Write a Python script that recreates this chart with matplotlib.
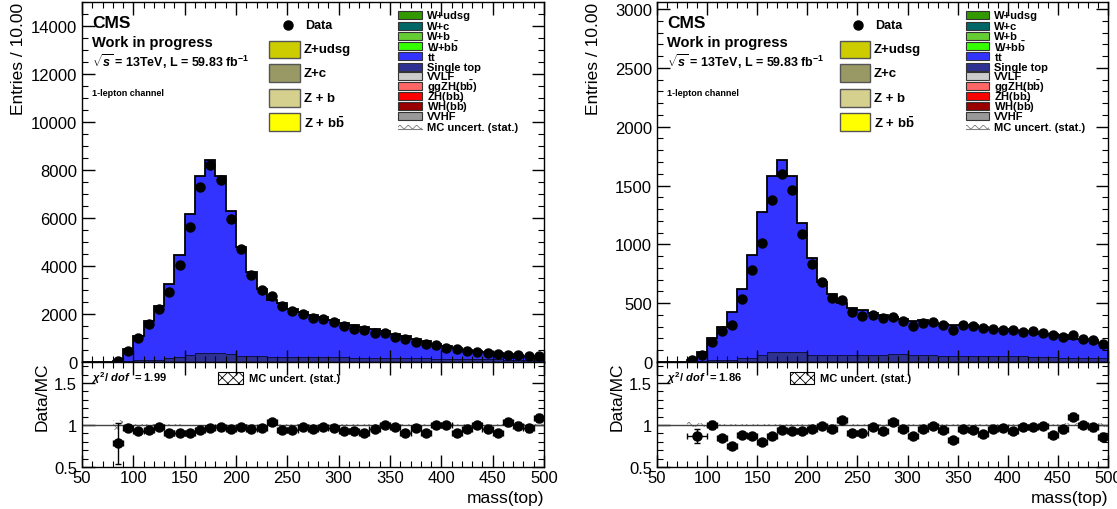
import matplotlib
matplotlib.use('Agg')
import matplotlib.pyplot as plt
import numpy as np
from matplotlib.patches import Rectangle
from matplotlib.ticker import MultipleLocator, FixedLocator, FuncFormatter

plt.rcParams['font.family'] = ['Liberation Sans', 'DejaVu Sans']
plt.rcParams['mathtext.fontset'] = 'custom'
plt.rcParams['mathtext.rm'] = 'Liberation Sans:bold'
plt.rcParams['mathtext.it'] = 'Liberation Sans:italic:bold'
plt.rcParams['mathtext.bf'] = 'Liberation Sans:bold'
plt.rcParams['hatch.linewidth'] = 0.6

# bins of 10 GeV from 50 to 500
edges = np.arange(50, 501, 10)

# ---- left panel ----
left_mc_total = [0, 0, 0, 40, 530, 1070, 1690, 2350, 3240, 4470, 6180, 7740, 8430, 7740,
                 6280, 4790, 3750, 3060, 2570, 2460, 2220, 2080, 1940, 1875, 1760, 1640,
                 1530, 1460, 1360, 1280, 1180, 1080, 970, 860, 760, 670, 580, 510, 440,
                 400, 360, 320, 290, 260, 220]
left_single_top = [0, 0, 0, 5, 60, 80, 80, 80, 170, 220, 290, 375, 375, 375, 330, 260,
                   250, 250, 210, 210, 210, 205, 200, 200, 195, 190, 185, 180, 175, 170,
                   165, 160, 155, 150, 145, 130, 125, 120, 115, 110, 105, 100, 95, 90, 85]
left_data = [0, 0, 0, 50, 460, 1000, 1600, 2220, 2920, 4030, 5625, 7280, 8220, 7600,
             5970, 4720, 3610, 2990, 2740, 2330, 2110, 2010, 1850, 1800, 1670, 1490,
             1390, 1320, 1210, 1210, 1040, 940, 830, 760, 690, 600, 530, 470, 420, 375,
             330, 305, 280, 260, 235]
left_mc_unc = [0, 0, 0, 0.06, 0.012, 0.008, 0.008, 0.008, 0.006, 0.006, 0.005, 0.005,
               0.005, 0.005, 0.005, 0.006, 0.006, 0.006, 0.006, 0.007, 0.007, 0.007,
               0.007, 0.008, 0.008, 0.008, 0.008, 0.008, 0.009, 0.009, 0.009, 0.01, 0.01,
               0.01, 0.01, 0.012, 0.012, 0.012, 0.013, 0.013, 0.014, 0.015, 0.015,
               0.016, 0.017]
left_ratio_x = [85, 95, 105, 115, 125, 135, 145, 155, 165, 175, 185, 195, 205, 215, 225,
                235, 245, 255, 265, 275, 285, 295, 305, 315, 325, 335, 345, 355, 365,
                375, 385, 395, 405, 415, 425, 435, 445, 455, 465, 475, 485, 495]
left_ratio_xerr = [5] * 42
left_ratio = [0.78, 0.96, 0.93, 0.94, 0.97, 0.91, 0.90, 0.91, 0.94, 0.96, 0.97, 0.95,
              0.98, 0.95, 0.96, 1.03, 0.94, 0.94, 0.98, 0.95, 0.97, 0.96, 0.93, 0.93,
              0.91, 0.95, 1.00, 0.98, 0.91, 0.96, 0.90, 1.00, 1.00, 0.90, 0.95, 1.00,
              0.95, 0.90, 1.03, 0.99, 0.96, 1.08]
left_ratio_err = [0.24, 0.03, 0.02, 0.02, 0.02, 0.015, 0.015, 0.015, 0.015, 0.015,
                  0.015, 0.015, 0.015, 0.02, 0.02, 0.02, 0.02, 0.02, 0.02, 0.02, 0.02,
                  0.02, 0.02, 0.02, 0.02, 0.02, 0.02, 0.025, 0.025, 0.025, 0.025, 0.025,
                  0.03, 0.03, 0.03, 0.03, 0.03, 0.03, 0.04, 0.04, 0.04, 0.05]

# ---- right panel ----
right_mc_total = [0, 0, 0, 15, 85, 204, 297, 425, 623, 911, 1274, 1579, 1715, 1579, 1183,
                  883, 679, 580, 504, 458, 439, 419, 396, 382, 368, 351, 354, 334, 325,
                  317, 317, 311, 297, 283, 277, 269, 260, 255, 241, 241, 226, 198, 198,
                  184, 164]
right_single_top = [0, 0, 0, 2, 10, 14, 14, 14, 34, 34, 57, 85, 85, 85, 85, 57, 57, 57,
                    57, 57, 57, 62, 62, 65, 65, 60, 60, 58, 55, 55, 55, 55, 55, 55, 50, 50,
                    48, 45, 45, 40, 38, 36, 35, 34, 32]
right_data = [0, 0, 0, 15, 62, 170, 263, 317, 538, 778, 1010, 1378, 1599, 1458, 1090, 829,
              679, 543, 529, 425, 391, 396, 374, 382, 345, 306, 334, 340, 311, 269, 311,
              306, 289, 283, 275, 269, 255, 260, 246, 226, 212, 226, 198, 184, 150]
right_mc_unc = [0, 0, 0, 0.03, 0.02, 0.015, 0.012, 0.01, 0.01, 0.008, 0.008, 0.008, 0.008,
                0.008, 0.008, 0.01, 0.01, 0.01, 0.01, 0.012, 0.012, 0.012, 0.012, 0.012,
                0.013, 0.013, 0.013, 0.013, 0.014, 0.014, 0.014, 0.014, 0.015, 0.015,
                0.015, 0.015, 0.016, 0.016, 0.017, 0.017, 0.018, 0.018, 0.019, 0.02, 0.02]
right_ratio_x = [90, 105, 115, 125, 135, 145, 155, 165, 175, 185, 195, 205, 215, 225, 235,
                 245, 255, 265, 275, 285, 295, 305, 315, 325, 335, 345, 355, 365, 375,
                 385, 395, 405, 415, 425, 435, 445, 455, 465, 475, 485, 495]
right_ratio_xerr = [10] + [5] * 40
right_ratio = [0.87, 1.00, 0.85, 0.75, 0.88, 0.87, 0.80, 0.87, 0.94, 0.93, 0.93, 0.95,
               0.99, 0.95, 1.06, 0.90, 0.90, 0.97, 0.93, 1.03, 0.95, 0.87, 0.95, 0.99,
               0.94, 0.82, 0.95, 0.94, 0.89, 0.95, 0.96, 0.93, 0.98, 0.97, 0.99, 0.88,
               0.95, 1.10, 1.00, 0.97, 0.86]
right_ratio_err = [0.08, 0.05, 0.03, 0.03, 0.025, 0.02, 0.02, 0.02, 0.02, 0.02, 0.02,
                   0.02, 0.02, 0.02, 0.025, 0.025, 0.025, 0.025, 0.025, 0.025, 0.03, 0.03,
                   0.03, 0.03, 0.03, 0.03, 0.03, 0.03, 0.03, 0.03, 0.035, 0.035, 0.035,
                   0.035, 0.035, 0.035, 0.04, 0.04, 0.04, 0.04, 0.04]

left_chi2 = '1.99'
right_chi2 = '1.86'

# legend entries (label, colour)
z_entries = [('Z+udsg', '#cccc00'), ('Z+c', '#999966'), ('Z + b', '#d6d08f'),
             (r'Z + b$\bar{\mathrm{b}}$', '#ffff00')]
other_entries = [('W+udsg', '#339900'), ('W+c', '#006666'), ('W+b', '#66cc33'),
                 (r'W+b$\bar{\mathrm{b}}$', '#33ff00'), (r'$\mathrm{t\bar{t}}$', '#3333ff'),
                 ('Single top', '#2e3192'), ('VVLF', '#cccccc'),
                 (r'ggZH(b$\bar{\mathrm{b}}$)', '#ff6666'), (r'ZH(b$\bar{\mathrm{b}}$)', '#ff0000'),
                 (r'WH(b$\bar{\mathrm{b}}$)', '#990000'), ('VVHF', '#999999')]

TT_COLOR = '#3333ff'
ST_COLOR = '#2e3192'


def style_axes(ax):
    ax.tick_params(which='both', direction='in', top=True, right=True, labelsize=12)
    ax.tick_params(which='major', length=9, width=1)
    ax.tick_params(which='minor', length=4.5, width=0.8)
    for s in ax.spines.values():
        s.set_linewidth(1.0)


def draw_main(ax, mc_total, single_top, data, ymax, major, minor):
    centers = (edges[:-1] + edges[1:]) / 2
    ax.stairs(single_top, edges, fill=True, facecolor=ST_COLOR, edgecolor='none')
    ax.stairs(single_top, edges, color='#10104a', lw=0.8)
    ax.stairs(mc_total, edges, baseline=single_top, fill=True, facecolor=TT_COLOR,
              edgecolor='none')
    ax.stairs(mc_total, edges, color='black', lw=1.3)

    d = np.array(data, dtype=float)
    mask = d > 0
    ax.plot(centers[mask], d[mask], 'o', color='black', ms=6.5, zorder=5)

    ax.set_xlim(50, 500)
    ax.set_ylim(0, ymax)
    ax.xaxis.set_major_locator(MultipleLocator(50))
    ax.xaxis.set_minor_locator(MultipleLocator(10))
    ax.yaxis.set_major_locator(MultipleLocator(major))
    ax.yaxis.set_minor_locator(MultipleLocator(minor))
    style_axes(ax)
    ax.tick_params(labelbottom=False)
    ax.set_ylabel('Entries / 10.00', fontsize=12.5, loc='top')

    # CMS labels
    ax.text(0.022, 0.944, 'CMS', transform=ax.transAxes, fontsize=12.5,
            fontweight='bold', va='center')
    ax.text(0.022, 0.889, 'Work in progress', transform=ax.transAxes, fontsize=10.5,
            fontweight='bold', va='center')
    ax.text(0.022, 0.836, r'$\sqrt{s}$ = 13TeV, L = 59.83 fb$^{-1}$',
            transform=ax.transAxes, fontsize=9, fontweight='bold', va='center')
    ax.text(0.022, 0.75, '1-lepton channel', transform=ax.transAxes, fontsize=6.5,
            fontweight='bold', va='center')

    # first legend column
    ax.plot([0.446], [0.936], 'o', color='black', ms=6.5, transform=ax.transAxes,
            clip_on=False)
    ax.text(0.483, 0.936, 'Data', transform=ax.transAxes, fontsize=9,
            fontweight='bold', va='center')
    z_rows = [0.869, 0.803, 0.733, 0.667]
    for (lab, col), yy in zip(z_entries, z_rows):
        ax.add_patch(Rectangle((0.405, yy - 0.024), 0.067, 0.048, transform=ax.transAxes,
                               facecolor=col, edgecolor='#555555', lw=1.0))
        ax.text(0.48, yy, lab, transform=ax.transAxes, fontsize=9.5,
                fontweight='bold', va='center')

    # second legend column (tightly packed like the original)
    rows = [0.964, 0.933, 0.906, 0.878, 0.850, 0.819, 0.794, 0.767, 0.739, 0.711, 0.683]
    for (lab, col), yy in zip(other_entries, rows):
        ax.add_patch(Rectangle((0.684, yy - 0.011), 0.052, 0.022, transform=ax.transAxes,
                               facecolor=col, edgecolor='#333333', lw=0.8))
        ax.text(0.747, yy, lab, transform=ax.transAxes, fontsize=8,
                fontweight='bold', va='center')
    ax.add_patch(Rectangle((0.684, 0.647), 0.052, 0.012, transform=ax.transAxes,
                           facecolor='none', edgecolor='gray', lw=0, hatch='xxxx'))
    ax.plot([0.684, 0.736], [0.647, 0.647], color='gray', lw=0.8,
            transform=ax.transAxes)
    ax.text(0.747, 0.653, 'MC uncert. (stat.)', transform=ax.transAxes, fontsize=8,
            fontweight='bold', va='center')


def draw_ratio(ax, rx, rxerr, r, rerr, unc, chi2):
    u = np.array(unc)
    ax.stairs(1 + u, edges, baseline=1 - u, fill=True, facecolor='none',
              edgecolor='gray', lw=0, hatch='xxx')
    ax.axhline(1.0, color='#444444', lw=1.0)
    ax.errorbar(rx, r, xerr=rxerr, yerr=rerr, fmt='o', color='black', ms=6.5,
                elinewidth=1.0, capsize=2, zorder=5)

    ax.set_xlim(50, 500)
    ax.set_ylim(0.5, 1.75)
    ax.xaxis.set_major_locator(MultipleLocator(50))
    ax.xaxis.set_minor_locator(MultipleLocator(10))
    ax.yaxis.set_major_locator(FixedLocator([0.5, 1.0, 1.5]))
    ax.yaxis.set_minor_locator(MultipleLocator(0.1))
    ax.yaxis.set_major_formatter(FuncFormatter(lambda v, p: '%g' % v))
    style_axes(ax)
    ax.tick_params(axis='x', pad=2)
    ax.set_ylabel('Data/MC', fontsize=12.5, loc='top')
    ax.set_xlabel('mass(top)', fontsize=12.5, loc='right')
    ax.xaxis.set_label_coords(1.0, -0.22)

    ax.text(0.022, 0.86, r'$\chi^{2}$/ $\mathit{dof}$  = ' + chi2, transform=ax.transAxes,
            fontsize=8, fontweight='bold', va='center')
    ax.add_patch(Rectangle((0.294, 0.79), 0.054, 0.114, transform=ax.transAxes,
                           facecolor='white', edgecolor='black', lw=0.8, hatch='xxx'))
    ax.text(0.361, 0.847, 'MC uncert. (stat.)', transform=ax.transAxes, fontsize=8,
            fontweight='bold', va='center')


fig = plt.figure(figsize=(11.17, 5.10), dpi=100)

ax_l = fig.add_axes([0.0734, 0.2882, 0.4136, 0.7059])
ax_lr = fig.add_axes([0.0734, 0.0824, 0.4136, 0.2059])
ax_r = fig.add_axes([0.5882, 0.2882, 0.4038, 0.7059])
ax_rr = fig.add_axes([0.5882, 0.0824, 0.4038, 0.2059])

draw_main(ax_l, left_mc_total, left_single_top, left_data, 15000, 2000, 500)
draw_ratio(ax_lr, left_ratio_x, left_ratio_xerr, left_ratio, left_ratio_err,
           left_mc_unc, left_chi2)
draw_main(ax_r, right_mc_total, right_single_top, right_data, 3060, 500, 100)
draw_ratio(ax_rr, right_ratio_x, right_ratio_xerr, right_ratio, right_ratio_err,
           right_mc_unc, right_chi2)

# y-label positions (ROOT style, top aligned)
ax_l.yaxis.set_label_coords(-0.121, 1.0)
ax_r.yaxis.set_label_coords(-0.124, 1.0)
ax_lr.yaxis.set_label_coords(-0.069, 1.0)
ax_rr.yaxis.set_label_coords(-0.071, 1.0)

fig.savefig('out.png', dpi=100)
plt.close(fig)
